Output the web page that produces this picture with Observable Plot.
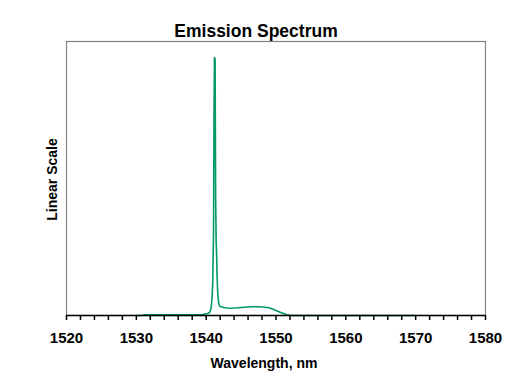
<!DOCTYPE html>
<html>
<head>
<meta charset="utf-8">
<script src="https://cdn.jsdelivr.net/npm/d3@7"></script>
<script src="https://cdn.jsdelivr.net/npm/@observablehq/plot@0.6"></script>
<style>
  html, body { margin: 0; padding: 0; background: #fff; }
  svg text { font-family: "Liberation Sans", Arial, sans-serif; }
</style>
</head>
<body>
<div id="chart"></div>
<script>
// Wavelength (nm) and relative intensity (% of plot height, linear scale)
const wavelength = [1530.0, 1531.0, 1531.1, 1539.6, 1539.7, 1540.2, 1540.5, 1540.7, 1540.85, 1540.95,
  1541.0, 1541.05, 1541.12, 1541.19, 1541.28, 1541.36, 1541.43, 1541.5, 1541.55, 1541.66,
  1541.75, 1541.85, 1542.0, 1542.3, 1542.5, 1543.0, 1543.5, 1544.0, 1544.5, 1545.0,
  1545.5, 1546.0, 1546.5, 1547.0, 1547.5, 1548.0, 1548.5, 1549.0, 1549.5, 1550.0,
  1550.5, 1551.0, 1551.5, 1552.0, 1552.3, 1570.0];
const intensity = [0.0, 0.07, 0.26, 0.26, 0.55, 0.73, 1.09, 2.55, 6.57, 12.77,
  21.9, 28.47, 71.17, 94.16, 93.61, 41.97, 27.37, 21.9, 15.33, 8.03,
  5.47, 4.01, 3.28, 3.10, 2.92, 2.74, 2.66, 2.74, 2.81, 2.92,
  3.03, 3.10, 3.18, 3.18, 3.18, 3.10, 2.99, 2.81, 2.37, 1.82,
  1.28, 0.80, 0.36, 0.11, 0.0, 0.0];
const xTicks = d3.range(1520, 1581, 2);
const xLabels = [1520, 1530, 1540, 1550, 1560, 1570, 1580];
const title = "Emission Spectrum";
const xTitle = "Wavelength, nm";
const yTitle = "Linear Scale";

const data = wavelength.map((w, i) => ({w, v: intensity[i]}));

const chart = Plot.plot({
  width: 527,
  height: 390,
  marginTop: 41,
  marginLeft: 66,
  marginRight: 42,
  marginBottom: 75,
  style: {fontFamily: "'Liberation Sans', Arial, sans-serif", background: "#fff"},
  x: {domain: [1520, 1580]},
  y: {domain: [0, 100]},
  marks: [
    Plot.frame({stroke: "#808080", strokeWidth: 1.2}),
    Plot.line(data, {x: "w", y: "v", stroke: "#009966", strokeWidth: 1.6, curve: "linear"}),
    Plot.ruleY([0], {stroke: "#000", strokeWidth: 1.5}),
    Plot.axisX({
      ticks: xTicks,
      tickFormat: d => xLabels.includes(d) ? String(d) : "",
      tickSize: 5,
      tickPadding: 12,
      stroke: "#000",
      strokeWidth: 1.5,
      fontSize: 15,
      fontWeight: "bold",
      fill: "#000",
      label: null
    }),
    Plot.axisY({ticks: [], label: null}),
    Plot.text([title], {frameAnchor: "top", lineAnchor: "middle", dx: -20, dy: -10, fontSize: 17.5, fontWeight: "bold", fill: "#000"}),
    Plot.text([xTitle], {frameAnchor: "bottom", lineAnchor: "middle", dx: -12, dy: 48, fontSize: 14, fontWeight: "bold", fill: "#000"}),
    Plot.text([yTitle], {frameAnchor: "left", textAnchor: "middle", lineAnchor: "middle", dx: -14, dy: 1, rotate: -90, fontSize: 14, fontWeight: "bold", fill: "#000"})
  ]
});
document.getElementById("chart").appendChild(chart);
</script>
</body>
</html>
